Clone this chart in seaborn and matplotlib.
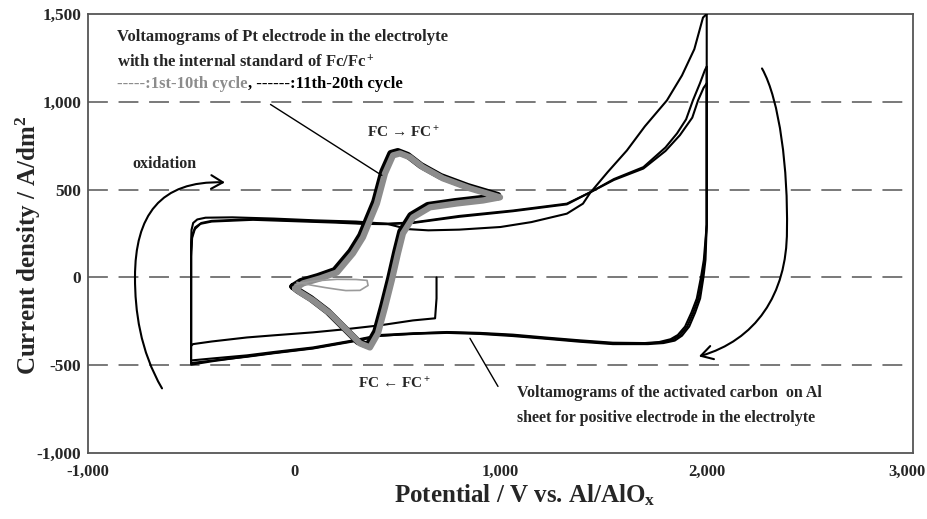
import matplotlib
matplotlib.use("Agg")
import numpy as np
import pandas as pd
import seaborn as sns
import matplotlib.pyplot as plt
from matplotlib.path import Path
from matplotlib.patches import FancyArrowPatch
from matplotlib.ticker import MultipleLocator, FixedLocator, FuncFormatter
import matplotlib.transforms as mtransforms

# ---------------- data ----------------
# Activated carbon on Al: initial negative sweep from rest potential
ac_init_x = [690, 690, 683, 576, 416, 250, 91, -100, -229, -400, -491, -500]
ac_init_y = [0, -120, -233, -245, -273, -295, -313, -330, -342, -365, -380, -390]

# anodic sweeps (-500 -> 2000 mV)
ac_ox1_x = [-500, -500, -498, -490, -470, -430, -300, -100, 100, 300, 450, 550, 650, 800, 1000, 1150, 1322, 1400, 1434, 1520, 1613, 1700, 1807, 1880, 1940, 1982, 2000]
ac_ox1_y = [-390, 200, 270, 310, 330, 340, 342, 335, 325, 318, 305, 275, 268, 272, 287, 315, 363, 420, 480, 600, 723, 860, 1008, 1150, 1300, 1480, 1500]
ac_ox2_x = [-500, -500, -495, -480, -450, -400, -200, 0, 200, 333, 450, 576, 800, 1061, 1322, 1434, 1550, 1693, 1800, 1856, 1900, 1933, 1967, 1991, 2000]
ac_ox2_y = [-473, 150, 240, 285, 310, 322, 332, 324, 316, 308, 306, 313, 350, 381, 420, 484, 560, 628, 740, 820, 900, 1008, 1105, 1180, 1200]
ac_ox3_x = [-500, -500, -495, -482, -455, -400, -200, 0, 200, 333, 450, 576, 800, 1061, 1322, 1434, 1550, 1693, 1800, 1870, 1930, 1958, 1985, 2000]
ac_ox3_y = [-490, 120, 225, 275, 305, 318, 328, 320, 312, 305, 303, 310, 345, 377, 416, 484, 555, 620, 720, 810, 910, 1008, 1080, 1105]

# cathodic sweeps (2000 -> -500 mV)
ac_red1_x = [2000, 2000, 1990, 1978, 1960, 1935, 1905, 1870, 1836, 1780, 1710, 1545, 1380, 1225, 1060, 900, 740, 580, 416, 285, 91, -100, -229, -400, -500]
ac_red1_y = [1500, 300, 100, 0, -120, -200, -280, -330, -355, -370, -376, -376, -362, -347, -330, -319, -313, -318, -328, -359, -399, -425, -444, -462, -473]
ac_red2_x = [2000, 2000, 1986, 1972, 1952, 1926, 1895, 1860, 1825, 1770, 1700, 1545, 1380, 1225, 1060, 900, 740, 580, 416, 285, 91, -100, -229, -400, -500]
ac_red2_y = [1200, 300, 100, 0, -120, -200, -280, -328, -352, -368, -374, -372, -358, -343, -326, -316, -311, -320, -333, -365, -405, -432, -452, -474, -488]
ac_red3_x = [2000, 2000, 1994, 1984, 1968, 1944, 1915, 1880, 1845, 1790, 1715, 1545, 1380, 1225, 1060, 900, 740, 580, 416, 285, 91, -100, -229, -400, -500]
ac_red3_y = [1105, 300, 100, 0, -120, -200, -280, -332, -360, -374, -380, -380, -366, -350, -334, -322, -316, -322, -332, -362, -403, -430, -450, -478, -497]

# Pt electrode, Fc/Fc+ loop (1st-10th cycle, drawn gray; 11th-20th black)
fc_x = [4, 43, 125, 207, 285, 333, 367, 401, 440, 479, 513, 561, 624, 721, 852, 949, 998,
        915, 789, 658, 576, 527, 503, 473, 440, 406, 367, 319, 256, 173, 91, 28, 4]
fc_y = [-63, -34, -6, 28, 137, 228, 325, 421, 592, 695, 706, 684, 627, 564, 507, 473, 456,
        438, 421, 399, 342, 250, 137, -17, -171, -319, -399, -376, -302, -205, -131, -85, -63]
# very first scan of the Pt electrode (thin gray)
fc_first_x = [4, 100, 207, 300, 353, 358, 319, 250, 207, 150, 91, 13]
fc_first_y = [-40, -20, -11, -12, -17, -46, -74, -75, -68, -58, -46, -28]

x_ticks = [-1000, 0, 1000, 2000, 3000]
x_minor = [-500, 500, 1500, 2500]
y_ticks = [-1000, -500, 0, 500, 1000, 1500]
grid_levels = [-500, 0, 500, 1000]

# ---------------- style ----------------
sns.set_style("white")
plt.rcParams['font.family'] = ['Liberation Serif', 'DejaVu Serif']
plt.rcParams['font.weight'] = 'bold'
plt.rcParams['mathtext.fontset'] = 'custom'
plt.rcParams['mathtext.rm'] = 'Liberation Serif:bold'
plt.rcParams['mathtext.it'] = 'Liberation Serif:italic:bold'
plt.rcParams['mathtext.bf'] = 'Liberation Serif:bold'

fig = plt.figure(figsize=(9.28, 5.19), dpi=100)
ax = fig.add_axes([0.0948, 0.1272, 0.8890, 0.8458])

for g in grid_levels:
    ax.axhline(g, color='#555555', lw=1.1, dashes=(13, 7), zorder=1)

def draw(xs, ys, **kw):
    df = pd.DataFrame({'x': xs, 'y': ys})
    sns.lineplot(data=df, x='x', y='y', sort=False, estimator=None, ax=ax, **kw)
    return ax.lines[-1]

carbon = [(ac_init_x, ac_init_y), (ac_ox1_x, ac_ox1_y), (ac_ox2_x, ac_ox2_y), (ac_ox3_x, ac_ox3_y),
          (ac_red1_x, ac_red1_y), (ac_red2_x, ac_red2_y), (ac_red3_x, ac_red3_y)]
for xs, ys in carbon:
    draw(xs, ys, color='black', lw=1.5, zorder=3)

# Fc loop: black (11th-20th) slightly offset under gray (1st-10th)
lb = draw(fc_x, fc_y, color='black', lw=5, zorder=4)
lb.set_transform(ax.transData + mtransforms.ScaledTranslation(-1.6 / 72, 1.4 / 72, fig.dpi_scale_trans))
lb.set_solid_joinstyle('round')
lg = draw(fc_x, fc_y, color='#8c8c8c', lw=4.5, zorder=5)
lg.set_solid_joinstyle('round')
draw(fc_first_x, fc_first_y, color='#9a9a9a', lw=1.2, zorder=6)

ax.set_xlim(-1000, 3000)
ax.set_ylim(-1000, 1500)
ax.xaxis.set_major_locator(FixedLocator(x_ticks))
ax.xaxis.set_minor_locator(FixedLocator(x_minor))
ax.yaxis.set_major_locator(FixedLocator(y_ticks))
ax.yaxis.set_minor_locator(MultipleLocator(100))
ax.xaxis.set_major_formatter(FuncFormatter(lambda v, p: f"{int(round(v)):,}"))
ax.yaxis.set_major_formatter(FuncFormatter(lambda v, p: f"{int(round(v)):,}"))
ax.tick_params(axis='x', which='both', direction='in', length=7, width=1.0, color='#444444', pad=8, labelsize=12)
ax.tick_params(axis='y', which='both', direction='in', length=4, width=1.0, color='#444444', pad=5, labelsize=12.5)
for lab in ax.get_xticklabels() + ax.get_yticklabels():
    lab.set_fontweight('bold')
# the right-most x label sits slightly left of its tick, as in the reference
last = ax.xaxis.get_major_ticks()[-1].label1
last.set_transform(last.get_transform() + mtransforms.ScaledTranslation(-6 / 100, 0, fig.dpi_scale_trans))
for s in ax.spines.values():
    s.set_color('#555555')
    s.set_linewidth(1.3)

ax.set_xlabel(r"Potential / V vs. Al/AlO$\mathregular{_x}$", fontsize=18, fontweight='bold')
ax.set_ylabel(r"Current density / A/dm$\mathregular{^2}$", fontsize=18, fontweight='bold')
ax.xaxis.set_label_coords(0.53, -0.066)
ax.yaxis.set_label_coords(-0.054, 0.474)

# ---------------- annotations ----------------
tfs = 12
ax.text(-859, 1344, "Voltamograms of Pt electrode in the electrolyte", fontsize=tfs, fontweight='bold', va='baseline')
ax.text(-859, 1196, r"with the internal standard of Fc/Fc$\mathregular{^+}$", fontsize=tfs, fontweight='bold', va='baseline')
tg = ax.text(-859, 1076, "-----:1st-10th cycle", fontsize=tfs, fontweight='bold', va='baseline', color='#8c8c8c')
ax.annotate(", ------:11th-20th cycle", xy=(1, 0), xycoords=tg, va='bottom', ha='left',
            fontsize=tfs, fontweight='bold', color='black')

ax.text(527, 797, r"FC → FC$\mathregular{^+}$", fontsize=11, fontweight='bold', ha='center', va='baseline')
ax.text(488, -632, r"FC ← FC$\mathregular{^+}$", fontsize=11, fontweight='bold', ha='center', va='baseline')
ax.text(-787, 621, "oxidation", fontsize=11.5, fontweight='bold', va='baseline')
ax.text(1080, -683, "Voltamograms of the activated carbon  on Al", fontsize=11.5, fontweight='bold', va='baseline')
ax.text(1080, -826, "sheet for positive electrode in the electrolyte", fontsize=11.5, fontweight='bold', va='baseline')

# leader lines
ax.plot([-115, 425], [985, 581], color='black', lw=1.0, zorder=7)
ax.plot([852, 988], [-347, -621], color='black', lw=1.0, zorder=7)

# curved arrows
left_path = Path([(-641, -632), (-748, -416), (-772, -188), (-772, 0),
                  (-772, 353), (-651, 552), (-336, 541)],
                 [Path.MOVETO, Path.CURVE4, Path.CURVE4, Path.CURVE4,
                  Path.CURVE4, Path.CURVE4, Path.CURVE4])
right_path = Path([(2268, 1190), (2355, 1008), (2394, 610), (2389, 268),
                   (2389, -102), (2234, -358), (1962, -450)],
                  [Path.MOVETO, Path.CURVE4, Path.CURVE4, Path.CURVE4,
                   Path.CURVE4, Path.CURVE4, Path.CURVE4])
for p in (left_path, right_path):
    arr = FancyArrowPatch(path=p, arrowstyle='->,head_length=0.6,head_width=0.35',
                          mutation_scale=14, lw=1.5, color='black', transform=ax.transData, zorder=7)
    ax.add_patch(arr)

fig.savefig("out.png", dpi=100)
